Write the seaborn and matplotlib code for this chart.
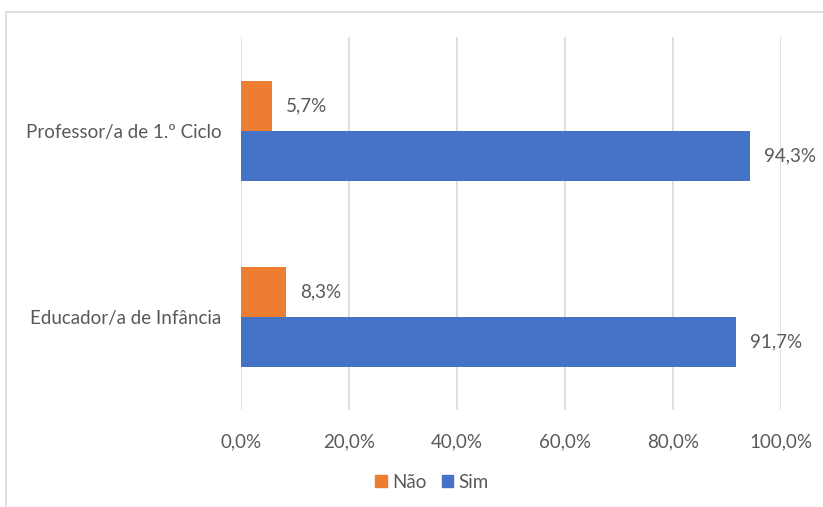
import matplotlib
matplotlib.use("Agg")
import matplotlib.pyplot as plt
import seaborn as sns
import pandas as pd
from matplotlib.patches import Rectangle, Patch

categories = ["Professor/a de 1.º Ciclo", "Educador/a de Infância"]
nao = [5.7, 8.3]
sim = [94.3, 91.7]
series = ["Não", "Sim"]
colors = {"Não": "#ED7D31", "Sim": "#4472C4"}

df = pd.DataFrame({
    "cat": categories * 2,
    "serie": ["Não"] * 2 + ["Sim"] * 2,
    "val": nao + sim,
})

sns.set_theme(style="white")
plt.rcParams["font.family"] = ["Lato", "DejaVu Sans"]
txt = "#595959"
fs = 13.5

fig = plt.figure(figsize=(8.23, 5.07), dpi=100)
ax = fig.add_axes([241/823, 1-410/507, (781-241)/823, (410-37)/507])
sns.barplot(data=df, y="cat", x="val", hue="serie", hue_order=series,
            palette=colors, orient="h", width=0.54, ax=ax, legend=False,
            saturation=1, errorbar=None, linewidth=0)

ax.set_xlim(0, 100)
ax.set_ylim(1.5, -0.505)
ax.set_xticks([0, 20, 40, 60, 80, 100])
ax.set_xticklabels(["0,0%", "20,0%", "40,0%", "60,0%", "80,0%", "100,0%"])
ax.grid(axis="x", color="#d9d9d9", linewidth=1.2)
ax.set_axisbelow(True)
for s in ax.spines.values():
    s.set_visible(False)
ax.tick_params(axis="x", colors=txt, labelsize=fs, pad=17, length=0)
ax.tick_params(axis="y", colors=txt, labelsize=fs, pad=14, length=0)
ax.set_xlabel("")
ax.set_ylabel("")

for cont in ax.containers:
    labels = [f"{v:.1f}%".replace(".", ",") for v in cont.datavalues]
    ax.bar_label(cont, labels=labels, padding=10, color=txt, fontsize=fs)

handles = [Patch(color=colors[s]) for s in series]
fig.legend(handles, series, loc="center", bbox_to_anchor=(432/823, 1-482/507),
           ncol=2, frameon=False, fontsize=fs, labelcolor=txt,
           handlelength=0.6, handleheight=0.6, handletextpad=0.3, columnspacing=0.8)

fig.patches.append(Rectangle((6/823, -0.1), 1.2, 1-12/507+0.1, transform=fig.transFigure,
                             fill=False, edgecolor="#d9d9d9", linewidth=1.2))

fig.savefig("out.png", dpi=100)
